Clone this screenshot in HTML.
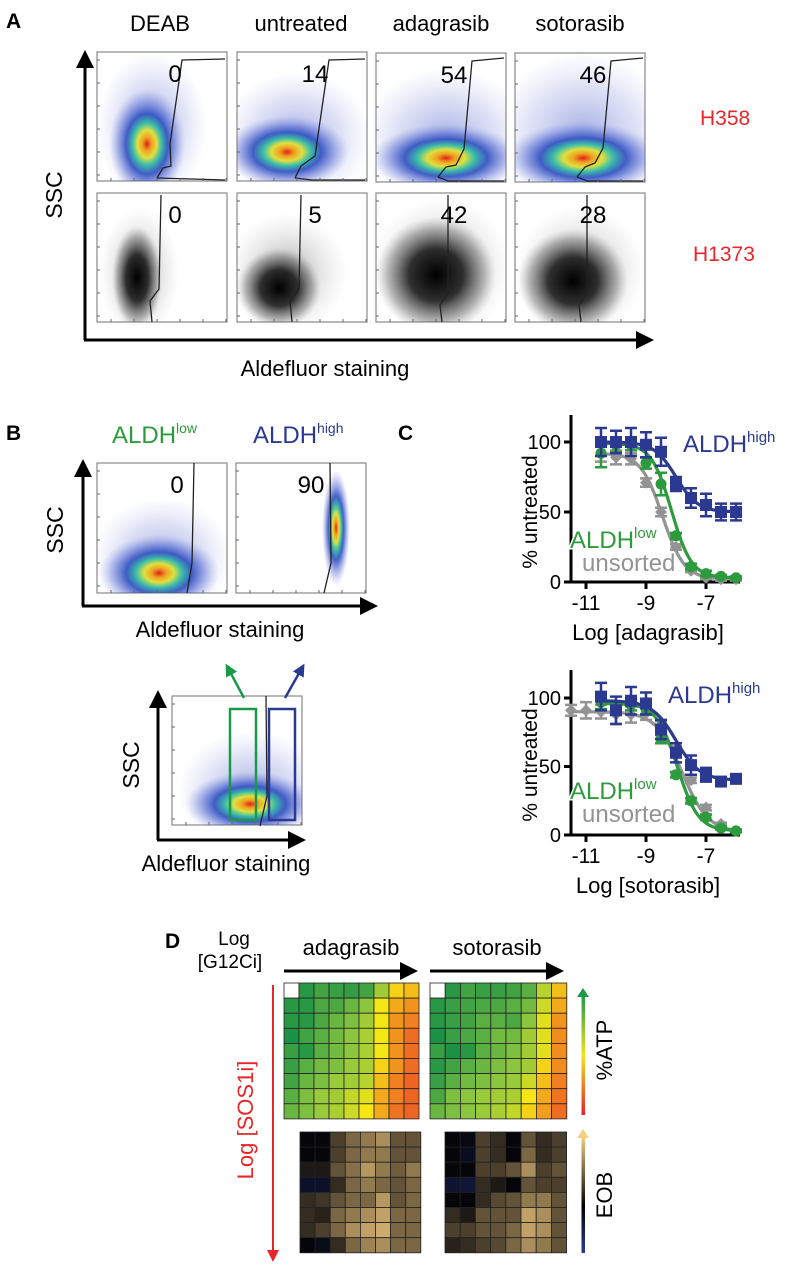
<!DOCTYPE html>
<html><head><meta charset="utf-8"><style>
html,body{margin:0;padding:0;background:#fff;}
svg{display:block;font-family:"Liberation Sans",Arial,sans-serif;}
</style></head><body>
<svg id="fig" width="800" height="1275" viewBox="0 0 800 1275">
<defs>
<radialGradient id="hot"><stop offset="0" stop-color="#e0201c"/><stop offset="0.12" stop-color="#f0a020"/><stop offset="0.25" stop-color="#dfe040"/><stop offset="0.38" stop-color="#3cc0a8"/><stop offset="0.55" stop-color="#2f4fc0" stop-opacity="0.9"/><stop offset="0.78" stop-color="#4a60d0" stop-opacity="0.4"/><stop offset="1" stop-color="#8090e0" stop-opacity="0"/></radialGradient>
<radialGradient id="haze"><stop offset="0" stop-color="#3a50c8" stop-opacity="0.45"/><stop offset="0.6" stop-color="#6070d0" stop-opacity="0.2"/><stop offset="1" stop-color="#8090e0" stop-opacity="0"/></radialGradient>
<radialGradient id="blk"><stop offset="0" stop-color="#000"/><stop offset="0.45" stop-color="#111" stop-opacity="0.85"/><stop offset="0.8" stop-color="#444" stop-opacity="0.35"/><stop offset="1" stop-color="#888" stop-opacity="0"/></radialGradient>
<radialGradient id="bhaze"><stop offset="0" stop-color="#333" stop-opacity="0.4"/><stop offset="0.6" stop-color="#666" stop-opacity="0.15"/><stop offset="1" stop-color="#888" stop-opacity="0"/></radialGradient>
<linearGradient id="atpbar" x1="0" y1="0" x2="0" y2="1"><stop offset="0" stop-color="#1a9a48"/><stop offset="0.5" stop-color="#f2e51a"/><stop offset="1" stop-color="#e8202a"/></linearGradient>
<linearGradient id="eobbar" x1="0" y1="0" x2="0" y2="1"><stop offset="0" stop-color="#f5cf80"/><stop offset="0.6" stop-color="#000"/><stop offset="1" stop-color="#2b3a9a"/></linearGradient>
<marker id="ah" markerWidth="6" markerHeight="6" refX="4" refY="3" orient="auto" markerUnits="strokeWidth"><path d="M0,0 L6,3 L0,6 z" fill="#000"/></marker>
<marker id="ahr" markerWidth="6" markerHeight="6" refX="4" refY="3" orient="auto" markerUnits="strokeWidth"><path d="M0,0 L6,3 L0,6 z" fill="#e8262a"/></marker>
<marker id="ahg" markerWidth="5" markerHeight="5" refX="3" refY="2.5" orient="auto" markerUnits="strokeWidth"><path d="M0,0 L5,2.5 L0,5 z" fill="#1a9a48"/></marker>
<marker id="ahb" markerWidth="5" markerHeight="5" refX="3" refY="2.5" orient="auto" markerUnits="strokeWidth"><path d="M0,0 L5,2.5 L0,5 z" fill="#2b3990"/></marker>
</defs>

<!-- Panel A -->
<text x="6" y="28" font-size="21" font-weight="bold">A</text>
<text x="160" y="31" font-size="22" text-anchor="middle">DEAB</text>
<text x="301" y="31" font-size="22" text-anchor="middle">untreated</text>
<text x="441" y="31" font-size="22" text-anchor="middle">adagrasib</text>
<text x="580" y="31" font-size="22" text-anchor="middle">sotorasib</text>
<text x="700" y="125" font-size="21" fill="#e8262a">H358</text>
<text x="693" y="261" font-size="21" fill="#e8262a">H1373</text>
<line x1="85" y1="340" x2="85" y2="56" stroke="#000" stroke-width="3" marker-end="url(#ah)"/>
<line x1="84" y1="340" x2="648" y2="340" stroke="#000" stroke-width="3" marker-end="url(#ah)"/>
<text transform="translate(62,195) rotate(-90)" font-size="23" text-anchor="middle">SSC</text>
<text x="325" y="376" font-size="22" text-anchor="middle">Aldefluor staining</text>
<g id="flowA"></g>

<!-- Panel B -->
<text x="6" y="440" font-size="21" font-weight="bold">B</text>
<text x="112" y="443" font-size="24" fill="#2e9a3e">ALDH<tspan font-size="14" dy="-10">low</tspan></text>
<text x="253" y="443" font-size="24" fill="#2b3990">ALDH<tspan font-size="14" dy="-10">high</tspan></text>
<line x1="83" y1="606" x2="83" y2="465" stroke="#000" stroke-width="3" marker-end="url(#ah)"/>
<line x1="82" y1="606" x2="372" y2="606" stroke="#000" stroke-width="3" marker-end="url(#ah)"/>
<text transform="translate(63,530) rotate(-90)" font-size="23" text-anchor="middle">SSC</text>
<text x="220" y="637" font-size="22" text-anchor="middle">Aldefluor staining</text>
<line x1="158" y1="840" x2="158" y2="696" stroke="#000" stroke-width="3" marker-end="url(#ah)"/>
<line x1="157" y1="840" x2="300" y2="840" stroke="#000" stroke-width="3" marker-end="url(#ah)"/>
<text transform="translate(139,765) rotate(-90)" font-size="23" text-anchor="middle">SSC</text>
<text x="226" y="871" font-size="22" text-anchor="middle">Aldefluor staining</text>
<g id="flowB"></g>
<rect x="230" y="709" width="26" height="111" fill="none" stroke="#1a9a48" stroke-width="2.5"/>
<rect x="269" y="709" width="26" height="111" fill="none" stroke="#2b3990" stroke-width="2.5"/>
<line x1="244" y1="698" x2="228" y2="668" stroke="#1a9a48" stroke-width="2.5" marker-end="url(#ahg)"/>
<line x1="285" y1="698" x2="302" y2="668" stroke="#2b3990" stroke-width="2.5" marker-end="url(#ahb)"/>

<!-- Panel C -->
<text x="398" y="440" font-size="21" font-weight="bold">C</text>
<g id="chartC"></g>

<!-- Panel D -->
<text x="165" y="948" font-size="21" font-weight="bold">D</text>
<text x="234" y="945" font-size="19" text-anchor="middle">Log</text>
<text x="230" y="968" font-size="19" text-anchor="middle">[G12Ci]</text>
<text x="351" y="955" font-size="22" text-anchor="middle">adagrasib</text>
<text x="497" y="955" font-size="22" text-anchor="middle">sotorasib</text>
<line x1="284" y1="971" x2="412" y2="971" stroke="#000" stroke-width="3" marker-end="url(#ah)"/>
<line x1="430" y1="971" x2="558" y2="971" stroke="#000" stroke-width="3" marker-end="url(#ah)"/>
<line x1="273" y1="985" x2="273" y2="1258" stroke="#e8262a" stroke-width="2" marker-end="url(#ahr)"/>
<text transform="translate(253,1120) rotate(-90)" font-size="22" fill="#e8262a" text-anchor="middle">Log [SOS1i]</text>
<rect x="581.5" y="995" width="3.5" height="120" fill="url(#atpbar)"/>
<path d="M577,997 L583,988 L589,997 z" fill="#1a9a48"/>
<text transform="translate(612,1050) rotate(-90)" font-size="22" text-anchor="middle">%ATP</text>
<rect x="581.5" y="1136" width="3.5" height="117" fill="url(#eobbar)"/>
<path d="M577,1138 L583,1129 L589,1138 z" fill="#f5cf80"/>
<text transform="translate(612,1195) rotate(-90)" font-size="22" text-anchor="middle">EOB</text>
<g id="heatD"></g>
</svg>
<script>
// ===== Panel C data =====
const xsAda = [-10.5,-10,-9.5,-9,-8.5,-8,-7.5,-7,-6.5,-6];
const adaHigh = [100,100,100,98,93,70,60,55,50,50];
const adaHighErr = [10,8,10,9,10,5,7,8,6,6];
const adaLow = [92,98,98,85,70,33,11,6,4,3];
const adaLowErr = [10,5,4,4,8,2,2,2,1,1];
const adaUns = [92,89,88,71,50,25,8,3,2,2];
const adaUnsErr = [6,5,4,3,3,2,1,1,1,1];
const xsSotUns = [-11.5,-11,-10.5,-10,-9.5,-9,-8.5,-8,-7.5,-7,-6.5,-6];
const sotUns = [91,91,90,88,88,89,80,62,40,20,8,3];
const sotUnsErr = [4,6,5,7,6,5,3,3,2,2,1,1];
const xsSot = [-10.5,-10,-9.5,-9,-8.5,-8,-7.5,-7,-6.5,-6];
const sotHigh = [101,91,98,96,77,60,51,44,39,41];
const sotHighErr = [10,10,10,8,7,7,7,5,3,3];
const sotLow = [97,93,95,92,70,44,25,13,5,3];
const sotLowErr = [5,4,4,4,3,2,2,2,1,1];
// fit params: [top, bottom, logIC50, hill]
const fitAdaHigh = [100,50,-8.0,1.2];
const fitAdaLow = [99,3,-8.15,1.3];
const fitAdaUns = [92,2,-8.45,1.2];
const fitSotHigh = [98,40,-8.0,1.1];
const fitSotLow = [96,3,-7.95,1.25];
const fitSotUns = [90,2,-7.8,1.0];
const xTicks = [-11,-9,-7];
const yTicks = [0,50,100];

// ===== Panel D data =====
const atpAda = [
[null,95,90,92,93,90,70,45,40],
[95,95,88,88,82,75,50,35,30],
[95,95,88,82,78,70,50,30,25],
[98,90,85,80,75,68,50,30,20],
[92,95,85,80,75,68,50,30,20],
[92,85,80,78,72,68,45,30,20],
[90,82,78,72,70,65,40,25,18],
[85,78,72,70,62,55,35,25,18],
[82,78,72,68,60,50,35,22,18]];
const atpSot = [
[null,95,90,92,92,90,85,65,40],
[95,92,90,88,88,85,80,60,35],
[95,92,90,85,85,88,75,55,30],
[98,92,88,85,80,80,70,55,28],
[92,98,95,85,82,78,70,55,28],
[95,90,85,82,78,75,70,45,28],
[92,85,80,78,75,72,60,40,25],
[88,78,75,72,70,68,50,35,22],
[82,78,75,72,68,62,45,32,20]];
const eobAda = [
[0,0,.3,.5,.6,.7,.4,.4],
[0,0,.3,.5,.6,.6,.4,.4],
[.1,.1,.4,.55,.75,.6,.45,.6],
[-.2,-.2,.2,.5,.6,.5,.4,.5],
[.2,.25,.4,.5,.5,.75,.4,.5],
[.2,.15,.5,.6,.7,.8,.5,.5],
[.2,.3,.5,.7,.8,.85,.5,.5],
[0,-.1,.2,.5,.65,.7,.5,.5]];
const eobSot = [
[0,-.05,.3,.2,0,.4,.2,.3],
[0,-.15,.3,.2,0,.5,.2,.3],
[0,0,.3,.3,.4,.7,.3,.4],
[-.25,-.3,.2,.1,0,.4,.3,.3],
[0,0,.2,.35,.4,.6,.6,.4],
[.2,.1,.4,.4,.4,.8,.7,.4],
[.3,.3,.4,.4,.5,.8,.7,.4],
[.15,.2,.3,.35,.5,.7,.6,.4]];

const NS="http://www.w3.org/2000/svg";
function mk(tag, attrs, parent){const e=document.createElementNS(NS,tag);for(const k in attrs)e.setAttribute(k,attrs[k]);parent.appendChild(e);return e;}

// ===== Flow plots (decorative) =====
const flowA=document.getElementById('flowA');
const flowBoxes=[
 {x:97,y:52,lab:'0',grad:'hot',cx:50,cy:92,rx:38,ry:55,hx:55,hy:75,hrx:55,hry:75,gate:'M60,126 L66,116 L74,114 L73,92 L85,8 L128,7 M60,126 L128,128',nm:'deab-h358'},
 {x:237,y:52,lab:'14',grad:'hot',cx:50,cy:100,rx:62,ry:36,hx:60,hy:85,hrx:75,hry:65,gate:'M58,126 L64,114 L78,104 L87,42 L92,8 L128,7 M58,126 L75,128 L128,128',nm:'untreated-h358'},
 {x:376,y:53,lab:'54',grad:'hot',cx:70,cy:105,rx:75,ry:34,hx:70,hy:85,hrx:85,hry:70,gate:'M62,124 L70,114 L80,112 L88,96 L96,8 L128,5 M62,124 L72,128 L128,128',nm:'adagrasib-h358'},
 {x:515,y:53,lab:'46',grad:'hot',cx:68,cy:105,rx:78,ry:36,hx:68,hy:80,hrx:90,hry:80,gate:'M62,124 L70,114 L80,110 L88,95 L96,8 L128,5 M62,124 L72,128 L128,128',nm:'sotorasib-h358'},
 {x:97,y:193,lab:'0',grad:'blk',cx:40,cy:85,rx:25,ry:52,hx:42,hy:80,hrx:40,hry:65,gate:'M55,129 L53,108 L62,96 L64,2',nm:'deab-h1373'},
 {x:237,y:193,lab:'5',grad:'blk',cx:42,cy:95,rx:42,ry:40,hx:50,hy:80,hrx:60,hry:60,gate:'M55,129 L53,108 L62,96 L64,2',nm:'untreated-h1373'},
 {x:376,y:193,lab:'42',grad:'blk',cx:60,cy:82,rx:60,ry:58,hx:65,hy:75,hrx:70,hry:70,gate:'M66,129 L64,112 L72,100 L72,2',nm:'adagrasib-h1373'},
 {x:515,y:193,lab:'28',grad:'blk',cx:58,cy:88,rx:55,ry:52,hx:65,hy:78,hrx:65,hry:65,gate:'M66,129 L64,112 L72,100 L72,2',nm:'sotorasib-h1373'}
];
function flowBox(parent,b,w,h){
 const g=mk('g',{transform:`translate(${b.x},${b.y})`},parent);
 
 
 mk('rect',{x:0,y:0,width:w,height:h,fill:'#fff',stroke:'#888','stroke-width':1.2},g);
 const cp='cp'+b.nm; const c=mk('clipPath',{id:cp},g); mk('rect',{x:0,y:0,width:w,height:h},c);
 const gg=mk('g',{'clip-path':`url(#${cp})`},g);
 if(b.hrx)mk('ellipse',{cx:b.hx,cy:b.hy,rx:b.hrx,ry:b.hry,fill:b.grad==='hot'?'url(#haze)':'url(#bhaze)'},gg);
 mk('ellipse',{cx:b.cx,cy:b.cy,rx:b.rx,ry:b.ry,fill:`url(#${b.grad})`},gg);
 mk('path',{d:b.gate,fill:'none',stroke:'#222','stroke-width':1.3},g);
 for(let i=0;i<6;i++){mk('line',{x1:0,x2:3,y1:8+i*23,y2:8+i*23,stroke:'#666'},g);mk('line',{y1:h,y2:h-3,x1:14+i*23,x2:14+i*23,stroke:'#666'},g);}
 if(b.lab!==''){const t=mk('text',{x:b.lx||78,y:b.ly||30,'font-size':24,'text-anchor':'middle'},g);t.textContent=b.lab;
  
  }
}
flowBoxes.forEach(b=>flowBox(flowA,b,130,129));
const flowB=document.getElementById('flowB');
flowBox(flowB,{x:97,y:463,lab:'0',lx:80,grad:'hot',cx:62,cy:110,rx:60,ry:38,hx:65,hy:95,hrx:70,hry:60,gate:'M90,130 L95,100 L97,0',nm:'aldh-low'},130,130);
flowBox(flowB,{x:236,y:463,lab:'90',lx:75,grad:'hot',cx:100,cy:65,rx:14,ry:58,gate:'M88,130 L95,100 L94,0',nm:'aldh-high'},130,130);
flowBox(flowB,{x:172,y:696,lab:'',grad:'hot',cx:78,cy:108,rx:65,ry:32,hx:80,hy:95,hrx:75,hry:60,gate:'M88,130 L95,100 L94,0',nm:'sort'},130,129);

// ===== Panel C charts =====
const C=document.getElementById('chartC');
const xS=v=>586+(v+11)*30;
function logistic(p,x){return p[1]+(p[0]-p[1])/(1+Math.pow(10,(x-p[2])*p[3]));}
function drawChart(o){
 const g=mk('g',{},C);
 
 
 const yS=v=>o.y0-v*o.k;
 mk('line',{x1:571,y1:o.top,x2:571,y2:o.y0+1.5,stroke:'#000','stroke-width':3},g);
 mk('line',{x1:569.5,y1:o.y0,x2:740,y2:o.y0,stroke:'#000','stroke-width':3},g);
 yTicks.forEach(t=>{mk('line',{x1:564,x2:571,y1:yS(t),y2:yS(t),stroke:'#000','stroke-width':3},g);
  const tx=mk('text',{x:561,y:yS(t)+7,'font-size':20,'text-anchor':'end'},g);tx.textContent=t;
  
  });
 xTicks.forEach(t=>{mk('line',{x1:xS(t),x2:xS(t),y1:o.y0,y2:o.y0+7,stroke:'#000','stroke-width':3},g);
  const tx=mk('text',{x:xS(t),y:o.y0+28,'font-size':21,'text-anchor':'middle'},g);tx.textContent=t;
  
  });
 const yt=mk('text',{transform:`translate(537,${o.y0-70}) rotate(-90)`,'font-size':21,'text-anchor':'middle'},g);yt.textContent='% untreated';
 
 
 const xt=mk('text',{x:648,y:o.y0+58,'font-size':22,'text-anchor':'middle'},g);xt.textContent=o.title;
 
 
 o.series.forEach(s=>{
  const sg=mk('g',{},g);
  
  
  let d='';for(let x=s.xs[0];x<=s.xs[s.xs.length-1]+1e-9;x+=0.05){d+=(d?'L':'M')+xS(x).toFixed(1)+','+yS(logistic(s.fit,x)).toFixed(1);}
  mk('path',{d,fill:'none',stroke:s.col,'stroke-width':3.2},sg);
  s.xs.forEach((x,i)=>{const cx=xS(x),cy=yS(s.ys[i]),e=s.err[i]*o.k;
   mk('path',{d:`M${cx},${cy-e}V${cy+e}M${cx-6},${cy-e}H${cx+6}M${cx-6},${cy+e}H${cx+6}`,stroke:s.col,'stroke-width':2.5,fill:'none'},sg);
   let m;
   if(s.mk==='sq')m=mk('rect',{x:cx-6,y:cy-6,width:12,height:12,fill:s.col},sg);
   else if(s.mk==='ci')m=mk('circle',{cx,cy,r:5.5,fill:s.col},sg);
   else m=mk('path',{d:`M${cx},${cy-6}L${cx+6},${cy}L${cx},${cy+6}L${cx-6},${cy}z`,fill:s.col},sg);
   
   
  });
 });
 const l1=mk('text',{x:o.hx,y:o.hy,'font-size':24,fill:'#2b3990'},g);l1.innerHTML='ALDH<tspan font-size="15" dy="-10">high</tspan>';
 
 
 const l2=mk('text',{x:570,y:o.ly,'font-size':24,fill:'#2e9a3e',stroke:'#fff','stroke-width':3,'paint-order':'stroke'},g);l2.innerHTML='ALDH<tspan font-size="15" dy="-10">low</tspan>';
 
 
 const l3=mk('text',{x:582,y:o.ly+23,'font-size':24,fill:'#939393',stroke:'#fff','stroke-width':3,'paint-order':'stroke'},g);l3.textContent='unsorted';
 
 
}
drawChart({nm:'adagrasib-chart',y0:582,k:1.4,top:415,title:'Log [adagrasib]',hx:683,hy:452,ly:548,series:[
 {nm:'unsorted',xs:xsAda,ys:adaUns,err:adaUnsErr,fit:fitAdaUns,col:'#939393',mk:'di'},
 {nm:'aldh-low',xs:xsAda,ys:adaLow,err:adaLowErr,fit:fitAdaLow,col:'#2e9a3e',mk:'ci'},
 {nm:'aldh-high',xs:xsAda,ys:adaHigh,err:adaHighErr,fit:fitAdaHigh,col:'#2b3990',mk:'sq'}]});
drawChart({nm:'sotorasib-chart',y0:835,k:1.37,top:670,title:'Log [sotorasib]',hx:668,hy:703,ly:799,series:[
 {nm:'unsorted',xs:xsSotUns,ys:sotUns,err:sotUnsErr,fit:fitSotUns,col:'#939393',mk:'di'},
 {nm:'aldh-low',xs:xsSot,ys:sotLow,err:sotLowErr,fit:fitSotLow,col:'#2e9a3e',mk:'ci'},
 {nm:'aldh-high',xs:xsSot,ys:sotHigh,err:sotHighErr,fit:fitSotHigh,col:'#2b3990',mk:'sq'}]});

// ===== Panel D heatmaps =====
function lerp(a,b,t){return a.map((v,i)=>Math.round(v+(b[i]-v)*t));}
function scale(stops,v){for(let i=0;i<stops.length-1;i++){if(v<=stops[i+1][0]){const t=(v-stops[i][0])/(stops[i+1][0]-stops[i][0]);return 'rgb('+lerp(stops[i][1],stops[i+1][1],t).join(',')+')';}}return 'rgb('+stops[stops.length-1][1].join(',')+')';}
const atpStops=[[0,[232,32,42]],[25,[240,128,32]],[50,[246,230,20]],[75,[140,198,63]],[100,[16,140,70]]];
const eobStops=[[-1,[40,60,160]],[0,[5,5,10]],[1,[240,200,125]]];
const H=document.getElementById('heatD');
function heat(data,x,y,cw,ch,stops,nm){
 const g=mk('g',{},H);
 
 
 data.forEach((row,r)=>row.forEach((v,c)=>{
  const cell=mk('rect',{x:x+c*cw,y:y+r*ch,width:cw,height:ch,fill:v===null?'#fff':scale(stops,v),stroke:'#222','stroke-width':0.8},g);
  
  
 }));
}
heat(atpAda,284,983,15,15.1,atpStops,'atp-heatmap-adagrasib');
heat(atpSot,430,983,15.2,15.1,atpStops,'atp-heatmap-sotorasib');
heat(eobAda,300,1132,15.1,15.1,eobStops,'eob-heatmap-adagrasib');
heat(eobSot,445,1132,15.2,15.1,eobStops,'eob-heatmap-sotorasib');
</script>
</body></html>
